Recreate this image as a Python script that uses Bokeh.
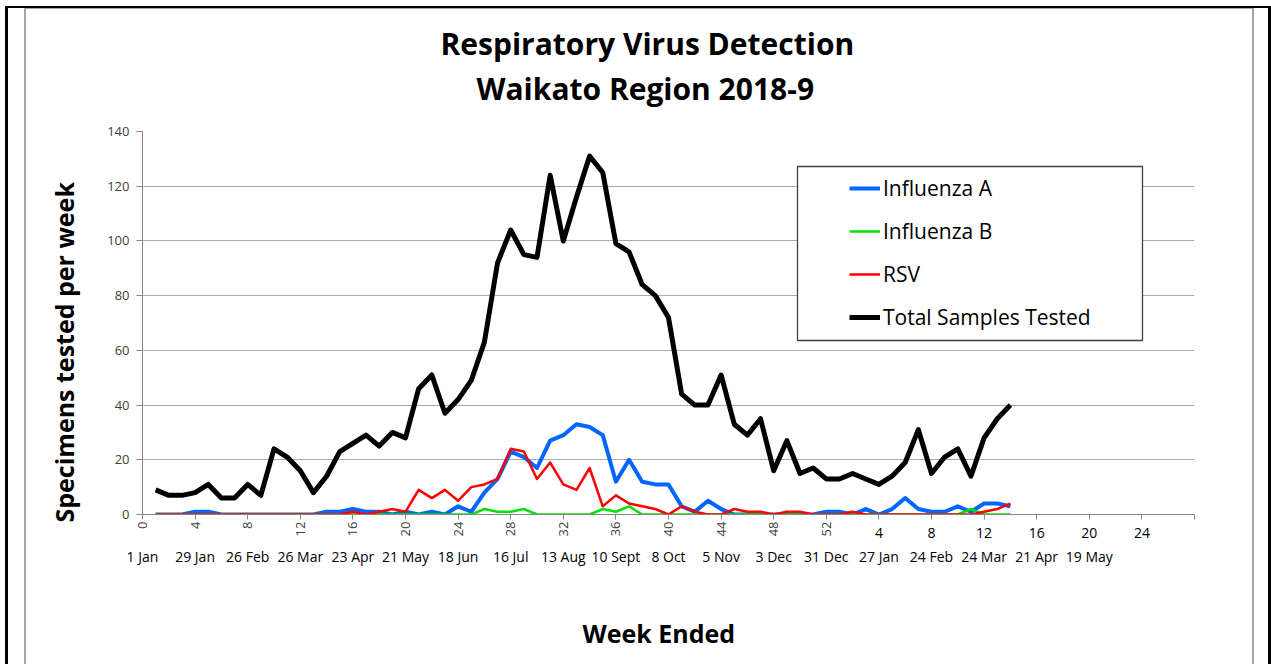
from math import pi
from bokeh.plotting import figure
from bokeh.models import (Range1d, FixedTicker, Legend, LegendItem, BoxAnnotation,
                          LinearAxis, Title, InlineStyleSheet)
from bokeh.embed import file_html
from bokeh.resources import INLINE

# ---------------- data ----------------
weeks = list(range(1, 67))  # week 1 of 2018 ... week 14 of 2019 (52 + 14)

influenza_a = [0, 0, 0, 1, 1, 0, 0, 0, 0, 0, 0, 0, 0, 1, 1, 2, 1, 1, 0, 1,
               0, 1, 0, 3, 1, 8, 13, 23, 21, 17, 27, 29, 33, 32, 29, 12, 20, 12, 11, 11,
               3, 1, 5, 2, 0, 0, 0, 0, 0, 0, 0, 1, 1, 0, 2, 0, 2, 6, 2, 1,
               1, 3, 1, 4, 4, 3]

influenza_b = [0, 0, 0, 0, 0, 0, 0, 0, 0, 0, 0, 0, 0, 0, 0, 0, 0, 0, 0, 0,
               0, 0, 0, 0, 0, 2, 1, 1, 2, 0, 0, 0, 0, 0, 2, 1, 3, 0, 0, 0,
               0, 0, 0, 0, 0, 0, 0, 0, 0, 0, 0, 0, 0, 0, 0, 0, 0, 0, 0, 0,
               0, 0, 2, 0, 0, 0]

rsv = [0, 0, 0, 0, 0, 0, 0, 0, 0, 0, 0, 0, 0, 0, 0, 1, 0, 1, 2, 1,
       9, 6, 9, 5, 10, 11, 13, 24, 23, 13, 19, 11, 9, 17, 3, 7, 4, 3, 2, 0,
       3, 1, 0, 0, 2, 1, 1, 0, 1, 1, 0, 0, 0, 1, 0, 0, 0, 0, 0, 0,
       0, 0, 0, 1, 2, 4]

total = [9, 7, 7, 8, 11, 6, 6, 11, 7, 24, 21, 16, 8, 14, 23, 26, 29, 25, 30, 28,
         46, 51, 37, 42, 49, 63, 92, 104, 95, 94, 124, 100, 116, 131, 125, 99, 96, 84, 80, 72,
         44, 40, 40, 51, 33, 29, 35, 16, 27, 15, 17, 13, 13, 15, 13, 11, 14, 19, 31, 15,
         21, 24, 14, 28, 35, 40]

series_names = ["Influenza A", "Influenza B", "RSV", "Total Samples Tested"]

x_ticks = list(range(0, 81, 4))
year1_weeks = list(range(0, 53, 4))
year2_weeks = [4, 8, 12, 16, 20, 24]
date_labels = ["1 Jan", "29 Jan", "26 Feb", "26 Mar", "23 Apr", "21 May", "18 Jun",
               "16 Jul", "13 Aug", "10 Sept", "8 Oct", "5 Nov", "3 Dec", "31 Dec",
               "27 Jan", "24 Feb", "24 Mar", "21 Apr", "19 May"]
y_ticks = list(range(0, 141, 20))

title_lines = ["Respiratory Virus Detection", "Waikato Region 2018-9"]
y_title = "Specimens tested per week"
x_title = "Week Ended"

# ---------------- geometry (canvas pixels) ----------------
W, H = 1271, 664
FL, FR, FT, FB = 142, 1194, 131, 514
X0, X1, Y0, Y1 = 0, 80, 0, 140
FONT = "Open Sans"


def px2x(px):
    return X0 + (px - FL) * (X1 - X0) / (FR - FL)


def py2y(py):
    return Y0 + (FB - py) * (Y1 - Y0) / (FB - FT)


p = figure(width=W, height=H, x_range=Range1d(X0, X1), y_range=Range1d(Y0, Y1),
           output_backend="svg", toolbar_location=None,
           min_border_left=FL, min_border_right=W - FR,
           min_border_top=FT, min_border_bottom=H - FB)
p.outline_line_color = None
p.background_fill_color = "white"
p.border_fill_color = "white"

# grid
p.xgrid.visible = False
p.ygrid.ticker = FixedTicker(ticks=y_ticks)
p.ygrid.grid_line_color = "#ABABAB"
p.ygrid.grid_line_width = 1

# y axis
p.yaxis.ticker = FixedTicker(ticks=y_ticks)
p.yaxis.axis_line_color = "#868686"
p.yaxis.major_tick_line_color = "#868686"
p.yaxis.major_tick_out = 6
p.yaxis.major_tick_in = 0
p.yaxis.minor_tick_line_color = None
p.yaxis.major_label_standoff = 7
p.yaxis.major_label_text_font = FONT
p.yaxis.major_label_text_font_size = "13px"
p.yaxis.major_label_text_color = "#404040"

# x axis: year-1 week numbers, rotated
p.xaxis.ticker = FixedTicker(ticks=x_ticks)
p.xaxis.major_label_overrides = {t: (str(t) if t in year1_weeks else "") for t in x_ticks}
p.xaxis.major_label_orientation = pi / 2
p.xaxis.axis_line_color = "#868686"
p.xaxis.major_tick_line_color = "#868686"
p.xaxis.major_tick_out = 5
p.xaxis.major_tick_in = 0
p.xaxis.minor_tick_line_color = None
p.xaxis.major_label_standoff = 2
p.xaxis.major_label_text_font = FONT
p.xaxis.major_label_text_font_size = "13px"
p.xaxis.major_label_text_color = "#404040"

# year-2 week numbers (horizontal)
year2_ticks = [52 + w for w in year2_weeks]
ax2 = LinearAxis(ticker=FixedTicker(ticks=year2_ticks),
                 major_label_overrides={t: str(w) for t, w in zip(year2_ticks, year2_weeks)},
                 axis_line_color=None, major_tick_line_color=None,
                 minor_tick_line_color=None, major_tick_out=0, major_tick_in=0,
                 major_label_standoff=-12, major_label_text_font=FONT,
                 major_label_text_font_size="14px", major_label_text_color="black")
p.add_layout(ax2, "below")

# week-ended dates
date_ticks = x_ticks[:len(date_labels)]
ax3 = LinearAxis(ticker=FixedTicker(ticks=date_ticks),
                 major_label_overrides={t: d for t, d in zip(date_ticks, date_labels)},
                 axis_line_color=None, major_tick_line_color=None,
                 minor_tick_line_color=None, major_tick_out=0, major_tick_in=0,
                 major_label_standoff=6, major_label_text_font=FONT,
                 major_label_text_font_size="14px", major_label_text_color="black")
p.add_layout(ax3, "below")

# titles (blank titles act as spacers)
TITLE_KW = dict(text_font=FONT, text_font_style="bold", text_color="black")
p.add_layout(Title(text=" ", standoff=6, text_font_size="10px", **TITLE_KW), "above")
p.add_layout(Title(text=title_lines[1], align="left", offset=476 - FL, standoff=2,
                   text_font_size="30px", **TITLE_KW), "above")
p.add_layout(Title(text=title_lines[0], align="left", offset=440 - FL, standoff=2,
                   text_font_size="30px", **TITLE_KW), "above")
p.add_layout(Title(text=y_title, align="left", offset=-8, standoff=47,
                   text_font_size="25px", **TITLE_KW), "left")
p.add_layout(Title(text=" ", standoff=28, text_font_size="10px", **TITLE_KW), "below")
p.add_layout(Title(text=x_title, align="left", offset=582 - FL, standoff=2,
                   text_font_size="25px", **TITLE_KW), "below")

# legend frame
p.add_layout(BoxAnnotation(left=px2x(797), right=px2x(1142), top=py2y(166), bottom=py2y(340),
                           fill_color="white", fill_alpha=1, line_color="#404040",
                           line_alpha=1, line_width=1.3, level="annotation"))

# series
colors = ["#0066FF", "#00E000", "#FF0000", "#000000"]
widths = [4, 2.5, 2.5, 5]
values = [influenza_a, influenza_b, rsv, total]
renderers = []
for name, col, lw, ys in zip(series_names, colors, widths, values):
    renderers.append(p.line(weeks, ys, line_color=col, line_width=lw, line_join="round"))

legend = Legend(items=[LegendItem(label=n, renderers=[r]) for n, r in zip(series_names, renderers)],
                location=(849 - FL, FB - 331), padding=0, margin=0, spacing=15,
                glyph_width=31, glyph_height=28, label_height=28, label_standoff=3,
                label_text_font=FONT, label_text_font_size="21px", label_text_color="black",
                border_line_color=None, background_fill_alpha=0)
p.add_layout(legend)

# outer black frame and gray chart-area frame
p.stylesheets = [InlineStyleSheet(css="""
:host::before { content: ""; position: absolute; left: 5px; top: 6px; width: 1266px; height: 658px;
  border-left: 3px solid black; border-top: 2px solid black; border-right: 3px solid black;
  box-sizing: border-box; pointer-events: none; z-index: 20; }
:host::after { content: ""; position: absolute; left: 24px; top: 8px; width: 1230px; height: 656px;
  border-left: 2px solid #A6A6A6; border-top: 1px solid #A6A6A6; border-right: 2px solid #A6A6A6;
  box-sizing: border-box; pointer-events: none; z-index: 20; }
""")]

open("out.html", "w").write(file_html(p, INLINE))
